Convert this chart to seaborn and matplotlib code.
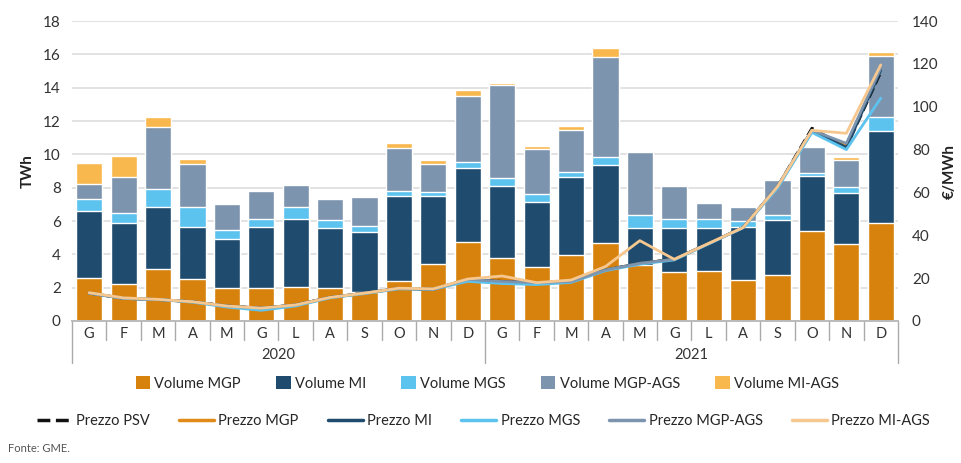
import numpy as np
import matplotlib
matplotlib.use("Agg")
import matplotlib.pyplot as plt
import seaborn as sns
from matplotlib.patches import Patch
from matplotlib.lines import Line2D

sns.set_theme(style="white")
plt.rcParams['font.family'] = ['Lato', 'DejaVu Sans']

months = ["G", "F", "M", "A", "M", "G", "L", "A", "S", "O", "N", "D"]
years = ["2020", "2021"]

# volumes, TWh
vol_mgp = [2.6, 2.2, 3.12, 2.5, 2.0, 1.96, 2.06, 2.0, 1.74, 2.4, 3.4, 4.72,
           3.8, 3.26, 3.98, 4.68, 3.36, 2.92, 3.02, 2.46, 2.74, 5.42, 4.64, 5.9]
vol_mi = [4.02, 3.66, 3.7, 3.12, 2.9, 3.66, 4.06, 3.6, 3.62, 5.12, 4.12, 4.48,
          4.32, 3.9, 4.64, 4.66, 2.24, 2.64, 2.58, 3.2, 3.32, 3.3, 3.06, 5.52]
vol_mgs = [0.68, 0.64, 1.1, 1.24, 0.54, 0.5, 0.74, 0.48, 0.36, 0.28, 0.24, 0.36,
           0.44, 0.44, 0.32, 0.48, 0.76, 0.54, 0.5, 0.36, 0.3, 0.18, 0.32, 0.84]
vol_mgp_ags = [0.9, 2.14, 3.72, 2.54, 1.6, 1.7, 1.3, 1.24, 1.72, 2.56, 1.64, 3.96,
               5.6, 2.72, 2.5, 6.04, 3.8, 2.02, 0.96, 0.84, 2.1, 1.54, 1.62, 3.64]
vol_mi_ags = [1.28, 1.24, 0.62, 0.3, 0.02, 0.0, 0.0, 0.0, 0.0, 0.3, 0.24, 0.34,
              0.14, 0.2, 0.28, 0.52, 0.04, 0.0, 0.0, 0.0, 0.0, 0.02, 0.18, 0.22]

# prices, EUR/MWh
p_psv = [13, 10.6, 10, 9, 7, 6, 7.5, 11, 13, 15.2, 14.8, 19.4,
         18.5, 17.8, 18.4, 23.8, 26.9, 28.8, 36.2, 43.6, 62.7, 90, 81, 116]
p_mgp = [13, 10.6, 10, 9, 7, 6, 7.5, 11, 13, 15.2, 14.8, 19.4,
         18.4, 17.9, 18.4, 23.8, 26.9, 28.8, 36.2, 43.6, 62.7, 89, 82, 118]
p_mi = [13, 10.6, 10, 9, 7, 6, 7.5, 11, 13, 15.2, 14.8, 19.4,
        18.4, 17.9, 18.4, 23.8, 26.9, 28.8, 36.2, 43.6, 62.7, 89, 81, 117]
p_mgs = [13, 10.5, 10, 8.8, 6.5, 5, 7, 10.8, 12.8, 15, 14.8, 18.5,
         17.5, 17, 18, 23.5, 26.5, 28.5, 36, 43.5, 62, 88, 80, 104]
p_mgp_ags = [13, 10.6, 10, 9, 7, 6, 7.5, 11, 13, 15.2, 14.8, 19.4,
             18.4, 17.9, 18.4, 23.8, 26.9, 28.8, 36.2, 43.6, 62.7, 89, 82.9, 118]
p_mi_ags = [13.2, 10.8, 10.1, 9, 7, 6, 7.5, 11, 13, 15.3, 15, 19.6,
            21, 17.9, 19.1, 25.4, 37.5, 28.8, 36.2, 43.6, 62.7, 89, 87.6, 119.5]

vol_series = [("Volume MGP", vol_mgp, "#D8820E"),
              ("Volume MI", vol_mi, "#1E4B6E"),
              ("Volume MGS", vol_mgs, "#5CC3EE"),
              ("Volume MGP-AGS", vol_mgp_ags, "#7D94AF"),
              ("Volume MI-AGS", vol_mi_ags, "#F8B84E")]
price_series = [("Prezzo PSV", p_psv, "#111111", "--"),
                ("Prezzo MGP", p_mgp, "#E08A18", "-"),
                ("Prezzo MI", p_mi, "#1E4B6E", "-"),
                ("Prezzo MGS", p_mgs, "#5CC3EE", "-"),
                ("Prezzo MGP-AGS", p_mgp_ags, "#7D94AF", "-"),
                ("Prezzo MI-AGS", p_mi_ags, "#F6C890", "-")]

n = len(vol_mgp)
idx = np.arange(n)

fig = plt.figure(figsize=(9.61, 4.63), dpi=100)
ax = fig.add_axes([0.0749, 0.3067, 0.8595, 0.6479])
ax2 = ax.twinx()

# stacked bars: draw cumulative totals from the top down
cum = np.cumsum([np.array(s[1]) for s in vol_series], axis=0)
for k in range(len(vol_series) - 1, -1, -1):
    sns.barplot(x=idx, y=cum[k], color=vol_series[k][2], width=0.76,
                saturation=1, errorbar=None, ax=ax, zorder=2)

for name, vals, col, ls in price_series:
    sns.lineplot(x=idx, y=vals, color=col, linestyle=ls, linewidth=2, ax=ax2)

ax.set_ylim(0, 18)
ax.set_yticks(range(0, 19, 2))
ax2.set_ylim(0, 140)
ax2.set_yticks(range(0, 141, 20))
ax.set_xlim(-0.5, n - 0.5)
ax.yaxis.grid(True, color="#DDDDDD", linewidth=1.2, zorder=0)
ax.set_axisbelow(True)
ax2.grid(False)

ax.set_xticks(idx)
ax.set_xticklabels(months * 2)
ax.tick_params(axis="x", length=0, pad=4, labelsize=10.5, labelcolor="#333333")
ax.tick_params(axis="y", length=0, pad=8, labelsize=11, labelcolor="#333333")
ax2.tick_params(axis="y", length=0, pad=10, labelsize=11, labelcolor="#333333")
ax.set_xlabel("")
ax.set_ylabel("TWh", fontsize=11, fontweight="bold", color="#222222", labelpad=6)
ax2.set_ylabel("€/MWh", fontsize=11, fontweight="bold", color="#222222", labelpad=3)

for a in (ax, ax2):
    for s in ["top", "left", "right"]:
        a.spines[s].set_visible(False)
    a.spines["bottom"].set_color("#BBBBBB")

# category separators
tr = ax.get_xaxis_transform()
for b in np.arange(-0.5, n, 1.0):
    long = b in (-0.5, 11.5, n - 0.5)
    ax.plot([b, b], [0, -0.14 if long else -0.065], transform=tr, color="#AAAAAA",
            linewidth=1, clip_on=False)
for j, yr in enumerate(years):
    ax.text(5.5 + 12 * j, -0.113, yr, transform=tr, ha="center", va="center",
            fontsize=10.5, color="#333333")

h1 = [Patch(facecolor=c, edgecolor="none", label=nm) for nm, _, c in vol_series]
fig.legend(handles=h1, loc="center", bbox_to_anchor=(0.507, 0.172), ncol=5,
           frameon=False, fontsize=10.5, handlelength=1.0, handleheight=1.0,
           handletextpad=0.3, columnspacing=2.4)
h2 = [Line2D([0], [0], color=c, linestyle=ls, linewidth=2.5, label=nm)
      for nm, _, c, ls in price_series]
fig.legend(handles=h2, loc="center", bbox_to_anchor=(0.503, 0.09), ncol=6,
           frameon=False, fontsize=10.5, handlelength=2.4, handletextpad=0.3,
           columnspacing=2.0)

fig.text(0.008, 0.024, "Fonte: GME.", fontsize=8, color="#555555")

fig.savefig("out.png", dpi=100)
